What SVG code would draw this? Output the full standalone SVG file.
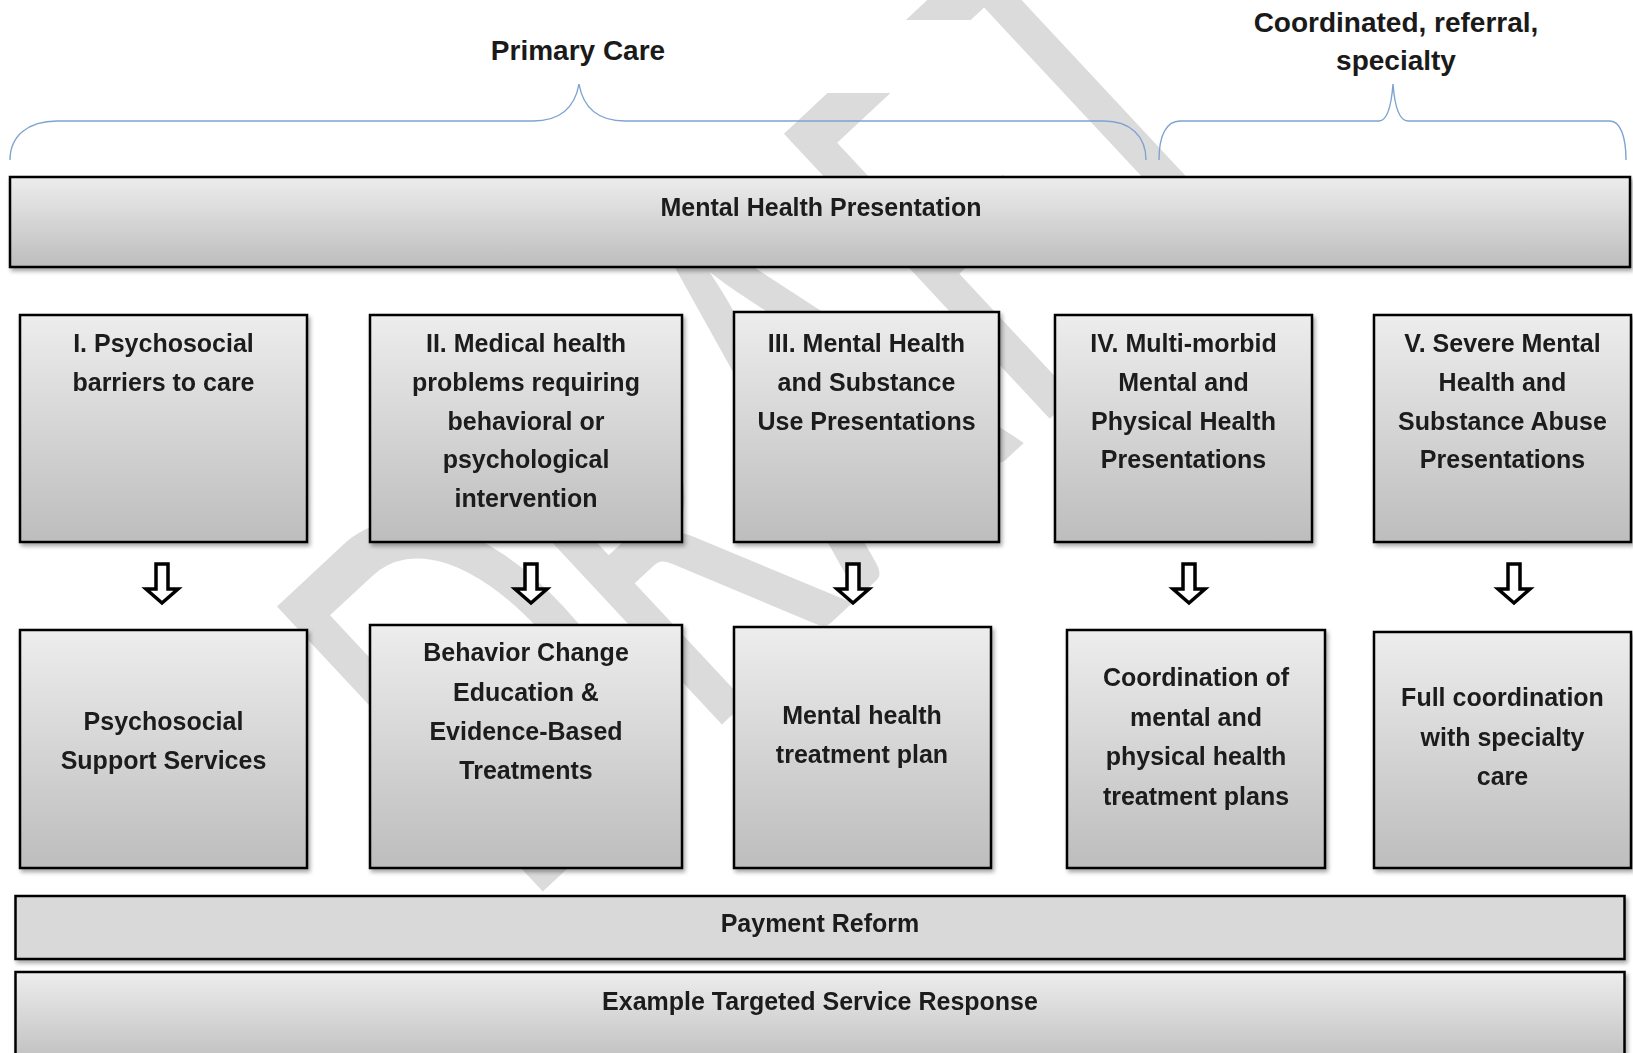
<svg xmlns="http://www.w3.org/2000/svg" width="1633" height="1053" viewBox="0 0 1633 1053">
<style>
.box{stroke:#000;stroke-width:2.5;fill:url(#g)}
.flat{stroke:#000;stroke-width:2.5;fill:#d9d9d9}
.t{font-family:"Liberation Sans",Arial,sans-serif;font-weight:700;font-size:25px;fill:#1a1a1a;text-anchor:middle}
.h{font-family:"Liberation Sans",Arial,sans-serif;font-weight:700;font-size:28px;fill:#1a1a1a;text-anchor:middle}
.brace{fill:none;stroke:#7ea3d0;stroke-width:1.4}
.arr{fill:#fff;stroke:#000;stroke-width:3.5;stroke-linejoin:miter}
.wm{font-family:Lato,"Open Sans",sans-serif;font-size:544px;fill:#dbdbdb}
</style>
<defs>
<linearGradient id="g" x1="0" y1="0" x2="0" y2="1">
<stop offset="0" stop-color="#ededed"/>
<stop offset="1" stop-color="#bdbdbd"/>
</linearGradient>
<filter id="sh" x="-5%" y="-5%" width="110%" height="120%">
<feGaussianBlur in="SourceAlpha" stdDeviation="2"/>
<feOffset dx="2" dy="3" result="b"/>
<feComponentTransfer><feFuncA type="linear" slope="0.35"/></feComponentTransfer>
<feMerge><feMergeNode/><feMergeNode in="SourceGraphic"/></feMerge>
</filter>
<path id="arrow" class="arr" d="M-6,564 H6 V589 H16 L0,603 L-16,589 H-6 Z"/>
</defs>
<rect width="1633" height="1053" fill="#fff"/>
<g id="watermark" transform="translate(276,607) rotate(-43) scale(0.62,1)">
<text class="wm" x="-48 347 696 1070 1360" y="390">DRAFT</text>
</g>
<rect id="header-textbox" x="170" y="20" width="815" height="73" fill="#fff"/>
<g id="braces">
<path class="brace" d="M10,160 C10,136 28,121 57,121 L533,121 C555,121 574,112 579,84 C584,112 603,121 625,121 L1104,121 C1130,121 1146,136 1146,160"/>
<path class="brace" d="M1159,160 C1159,136 1166,121 1180,121 L1379,121 C1386,121 1391,110 1393,84 C1395,110 1400,121 1408,121 L1610,121 C1620,121 1626,136 1626,160"/>
</g>
<g id="headers">
<text class="h" x="578" y="60">Primary Care</text>
<text class="h" x="1396" y="32">Coordinated, referral,</text>
<text class="h" x="1396" y="70">specialty</text>
</g>
<g id="mh" filter="url(#sh)">
<rect class="box" x="10" y="177" width="1620" height="90"/>
<text class="t" x="821" y="216">Mental Health Presentation</text>
</g>
<g id="n1" filter="url(#sh)">
<rect class="box" x="20" y="315" width="287" height="227"/>
<text class="t" x="163.5" y="352">I. Psychosocial</text>
<text class="t" x="163.5" y="391">barriers to care</text>
</g>
<g id="n2" filter="url(#sh)">
<rect class="box" x="370" y="315" width="312" height="227"/>
<text class="t" x="526" y="352">II. Medical health</text>
<text class="t" x="526" y="391">problems requiring</text>
<text class="t" x="526" y="430">behavioral or</text>
<text class="t" x="526" y="468">psychological</text>
<text class="t" x="526" y="507">intervention</text>
</g>
<g id="n3" filter="url(#sh)">
<rect class="box" x="734" y="312" width="265" height="230"/>
<text class="t" x="866.5" y="352">III. Mental Health</text>
<text class="t" x="866.5" y="391">and Substance</text>
<text class="t" x="866.5" y="430">Use Presentations</text>
</g>
<g id="n4" filter="url(#sh)">
<rect class="box" x="1055" y="315" width="257" height="227"/>
<text class="t" x="1183.5" y="352">IV. Multi-morbid</text>
<text class="t" x="1183.5" y="391">Mental and</text>
<text class="t" x="1183.5" y="430">Physical Health</text>
<text class="t" x="1183.5" y="468">Presentations</text>
</g>
<g id="n5" filter="url(#sh)">
<rect class="box" x="1374" y="315" width="257" height="227"/>
<text class="t" x="1502.5" y="352">V. Severe Mental</text>
<text class="t" x="1502.5" y="391">Health and</text>
<text class="t" x="1502.5" y="430">Substance Abuse</text>
<text class="t" x="1502.5" y="468">Presentations</text>
</g>
<g id="connectors">
<use href="#arrow" x="162"/>
<use href="#arrow" x="531"/>
<use href="#arrow" x="853"/>
<use href="#arrow" x="1189"/>
<use href="#arrow" x="1514"/>
</g>
<g id="r1" filter="url(#sh)">
<rect class="box" x="20" y="630" width="287" height="238"/>
<text class="t" x="163.5" y="730">Psychosocial</text>
<text class="t" x="163.5" y="769">Support Services</text>
</g>
<g id="r2" filter="url(#sh)">
<rect class="box" x="370" y="625" width="312" height="243"/>
<text class="t" x="526" y="661">Behavior Change</text>
<text class="t" x="526" y="701">Education &amp;</text>
<text class="t" x="526" y="740">Evidence-Based</text>
<text class="t" x="526" y="779">Treatments</text>
</g>
<g id="r3" filter="url(#sh)">
<rect class="box" x="734" y="627" width="257" height="241"/>
<text class="t" x="862" y="724">Mental health</text>
<text class="t" x="862" y="763">treatment plan</text>
</g>
<g id="r4" filter="url(#sh)">
<rect class="box" x="1067" y="630" width="258" height="238"/>
<text class="t" x="1196" y="686">Coordination of</text>
<text class="t" x="1196" y="726">mental and</text>
<text class="t" x="1196" y="765">physical health</text>
<text class="t" x="1196" y="805">treatment plans</text>
</g>
<g id="r5" filter="url(#sh)">
<rect class="box" x="1374" y="632" width="257" height="236"/>
<text class="t" x="1502.5" y="706">Full coordination</text>
<text class="t" x="1502.5" y="746">with specialty</text>
<text class="t" x="1502.5" y="785">care</text>
</g>
<g id="payment" filter="url(#sh)">
<rect class="flat" x="15.5" y="896" width="1609" height="63"/>
<text class="t" x="820" y="932">Payment Reform</text>
</g>
<g id="example" filter="url(#sh)">
<rect class="box" x="15.5" y="972" width="1609" height="95"/>
<text class="t" x="820" y="1010">Example Targeted Service Response</text>
</g>
</svg>
